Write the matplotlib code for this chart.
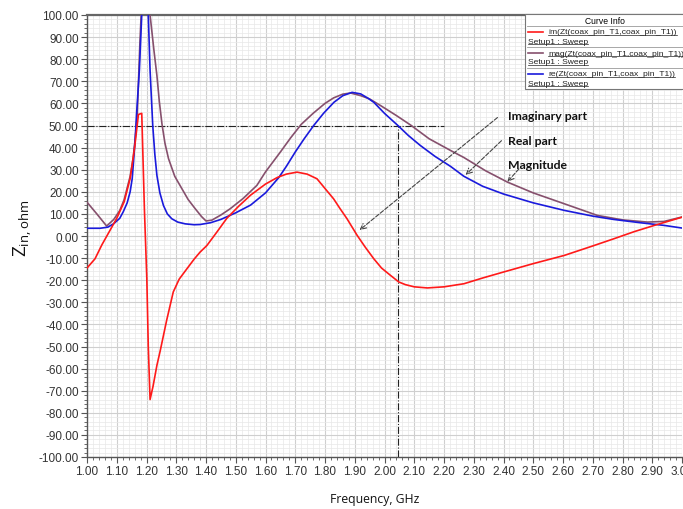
import matplotlib
matplotlib.use("Agg")
import matplotlib.pyplot as plt
from matplotlib.patches import Rectangle
from matplotlib.lines import Line2D
from matplotlib.ticker import MultipleLocator, FormatStrFormatter

# im(Zt) - imaginary part
im_freq = [1.00, 1.027, 1.05, 1.075, 1.10, 1.125, 1.145, 1.16, 1.173, 1.184,
           1.193, 1.201, 1.206, 1.212, 1.222, 1.235, 1.246, 1.257, 1.268, 1.29,
           1.31, 1.336, 1.36, 1.38, 1.403, 1.435, 1.47, 1.51, 1.55, 1.60,
           1.64, 1.67, 1.706, 1.74, 1.773, 1.80, 1.829, 1.85, 1.874, 1.908,
           1.935, 1.964, 1.99, 2.02, 2.048, 2.07, 2.10, 2.144, 2.20, 2.267,
           2.33, 2.40, 2.50, 2.604, 2.70, 2.772, 2.84, 2.907, 3.00]
im_vals = [-14.5, -10.3, -4.0, 2.0, 8.0, 15.5, 26.0, 40.0, 55.0, 55.5,
           12.0, -19.0, -50.0, -74.0, -68.0, -58.5, -52.0, -45.0, -38.0, -25.3,
           -19.5, -14.8, -10.5, -7.3, -4.3, 1.5, 8.0, 13.5, 18.5, 23.5,
           26.5, 28.0, 28.9, 28.0, 25.9, 21.5, 16.8, 12.5, 7.8, 0.3,
           -5.0, -10.3, -14.5, -17.8, -20.8, -22.0, -23.0, -23.5, -23.0, -21.6,
           -19.0, -16.3, -12.5, -8.8, -4.5, -1.2, 2.0, 4.8, 8.5]

# mag(Zt) - magnitude
mag_freq = [1.00, 1.033, 1.066, 1.09, 1.11, 1.125, 1.145, 1.155, 1.162, 1.169,
            1.178, 1.182, 1.197, 1.212, 1.225, 1.235, 1.243, 1.252, 1.262, 1.274,
            1.295, 1.319, 1.34, 1.364, 1.385, 1.40, 1.42, 1.45, 1.481, 1.525,
            1.571, 1.60, 1.65, 1.685, 1.72, 1.76, 1.80, 1.829, 1.86, 1.886,
            1.92, 1.95, 1.987, 2.04, 2.09, 2.15, 2.222, 2.267, 2.34, 2.413,
            2.50, 2.604, 2.716, 2.80, 2.884, 2.94, 3.00]
mag_vals = [15.3, 10.0, 4.5, 7.5, 11.5, 16.5, 27.0, 35.0, 44.0, 55.0,
            88.0, 100.0, 140.0, 100.0, 84.0, 72.6, 61.0, 50.7, 42.0, 35.0,
            27.0, 21.4, 16.5, 12.3, 8.8, 6.8, 7.2, 9.5, 12.3, 17.0,
            22.9, 29.0, 38.0, 44.5, 50.5, 55.5, 60.0, 62.5, 64.2, 64.7,
            63.5, 62.0, 59.0, 54.5, 50.0, 44.0, 38.7, 35.5, 29.5, 24.4,
            19.5, 14.6, 9.3, 7.3, 6.3, 6.6, 8.6]

# re(Zt) - real part
re_freq = [1.00, 1.044, 1.07, 1.089, 1.11, 1.122, 1.135, 1.145, 1.152, 1.156,
           1.162, 1.167, 1.176, 1.184, 1.195, 1.206, 1.212, 1.221, 1.228, 1.235,
           1.245, 1.257, 1.27, 1.285, 1.305, 1.33, 1.36, 1.38, 1.415, 1.45,
           1.50, 1.55, 1.60, 1.645, 1.67, 1.70, 1.73, 1.762, 1.795, 1.83,
           1.86, 1.891, 1.92, 1.945, 1.964, 2.00, 2.045, 2.08, 2.12, 2.17,
           2.222, 2.267, 2.33, 2.40, 2.50, 2.604, 2.70, 2.77, 2.86, 2.94,
           3.00]
re_vals = [3.5, 3.5, 4.0, 5.5, 8.0, 11.0, 15.0, 20.0, 26.0, 33.0,
           44.0, 56.0, 75.0, 100.0, 130.0, 100.0, 75.0, 50.0, 37.0, 27.4,
           19.5, 13.8, 10.0, 7.8, 6.3, 5.5, 5.1, 5.2, 6.0, 7.5,
           10.5, 14.0, 19.5, 26.5, 31.5, 38.0, 44.0, 50.0, 55.5, 60.5,
           63.5, 65.0, 64.3, 62.3, 60.5, 55.5, 50.0, 45.5, 41.0, 36.0,
           31.5, 27.0, 22.5, 19.0, 15.0, 11.6, 9.0, 7.5, 6.0, 4.8,
           3.6]

legend_names = ["im(Zt(coax_pin_T1,coax_pin_T1))",
                "mag(Zt(coax_pin_T1,coax_pin_T1))",
                "re(Zt(coax_pin_T1,coax_pin_T1))"]
c_im, c_mag, c_re = "#ff1a1a", "#86506d", "#1a1adc"

W, H = 683, 510
fig = plt.figure(figsize=(W / 100, H / 100), dpi=100)


def fx(px):
    return px / W


def fy(py):
    return 1 - py / H


ax = fig.add_axes([fx(87), fy(458), fx(682) - fx(87), fy(16) - fy(458)])
ax.set_xlim(1.0, 3.0)
ax.set_ylim(-100, 100)

ax.plot(im_freq, im_vals, color=c_im, lw=1.2, zorder=4)
ax.plot(mag_freq, mag_vals, color=c_mag, lw=1.2, zorder=3)
ax.plot(re_freq, re_vals, color=c_re, lw=1.2, zorder=3)

# reference lines at 50 ohm / 2.045 GHz
ax.plot([1.0, 2.20], [50, 50], color="#222222", ls="-.", lw=0.8, zorder=2)
ax.plot([2.045, 2.045], [-100, 50], color="#222222", ls="-.", lw=0.8, zorder=2)

ax.xaxis.set_major_locator(MultipleLocator(0.1))
ax.xaxis.set_minor_locator(MultipleLocator(0.02))
ax.yaxis.set_major_locator(MultipleLocator(10))
ax.yaxis.set_minor_locator(MultipleLocator(2))
ax.xaxis.set_major_formatter(FormatStrFormatter("%.2f"))
ax.yaxis.set_major_formatter(FormatStrFormatter("%.2f"))
ax.grid(which="major", color="#cfcfcf", lw=0.8, zorder=0)
ax.grid(which="minor", color="#e8e8e8", lw=0.5, zorder=0)
ax.set_axisbelow(True)
ax.tick_params(which="major", direction="out", length=4, width=0.8, color="#555555",
               labelsize=8.5, labelcolor="#333333", pad=2)
ax.tick_params(which="minor", direction="out", length=2.2, width=0.6, color="#555555")
for lab in ax.get_xticklabels() + ax.get_yticklabels():
    lab.set_family("Liberation Sans")
for side in ["left", "bottom"]:
    ax.spines[side].set_color("#555555")
    ax.spines[side].set_linewidth(1.0)
ax.spines["top"].set_color("#666666")
ax.spines["top"].set_linewidth(1.6)
ax.spines["right"].set_visible(False)

# annotations
arrow_kw = dict(arrowstyle="->", ls="--", color="#444444", lw=0.8)
labels = [("Imaginary part", (1.909, 1.9), (2.387, 54.4), 54.4),
          ("Real part", (2.266, 26.8), (2.40, 44.0), 43.0),
          ("Magnitude", (2.407, 23.6), (2.458, 31.3), 32.2)]
for txt, tip, start, ty in labels:
    ax.annotate("", xy=tip, xytext=start, arrowprops=arrow_kw, zorder=5)
    ax.text(2.414, ty, txt, fontsize=8.8, fontweight="bold", family="Lato",
            color="#111111", va="center", ha="left", zorder=5)

# axis titles
fig.text(fx(23), fy(228), r"Z$_{\mathregular{in,ohm}}$", rotation=90, fontsize=13.5,
         family="Open Sans", ha="center", va="center", color="#111111")
fig.text(fx(375), fy(500), "Frequency, GHz", fontsize=8.8, family="Open Sans",
         ha="center", va="center", color="#111111")

# Curve Info box
fig.patches.append(Rectangle((fx(525), fy(90)), fx(700) - fx(525), fy(15) - fy(90),
                             transform=fig.transFigure, facecolor="white",
                             edgecolor="#777777", lw=0.8, zorder=10))
fig.text(fx(605), fy(21), "Curve Info", fontsize=6.2, family="Liberation Sans",
         ha="center", va="center", zorder=11)
for sep in [27, 48, 69]:
    fig.lines.append(Line2D([fx(527), fx(700)], [fy(sep), fy(sep)], transform=fig.transFigure,
                            color="#999999", lw=0.6, zorder=11))
entry_texts = []
for i, (name, col) in enumerate(zip(legend_names, [c_im, c_mag, c_re])):
    y0 = 33 + i * 21
    fig.lines.append(Line2D([fx(528), fx(543)], [fy(y0), fy(y0)], transform=fig.transFigure,
                            color=col, lw=1.2, zorder=11))
    t1 = fig.text(fx(548), fy(y0), name, fontsize=6.1, family="Liberation Sans",
                  ha="left", va="center", color="#222222", zorder=11)
    t2 = fig.text(fx(528), fy(y0 + 9), "Setup1 : Sweep", fontsize=6.1, family="Liberation Sans",
                  ha="left", va="center", color="#222222", zorder=11)
    entry_texts += [t1, t2]

# underline the legend texts
fig.canvas.draw()
renderer = fig.canvas.get_renderer()
for t in entry_texts:
    bb = t.get_window_extent(renderer)
    fig.lines.append(Line2D([bb.x0 / W, bb.x1 / W], [(bb.y0 + 0.5) / H, (bb.y0 + 0.5) / H],
                            transform=fig.transFigure, color="#222222", lw=0.5, zorder=11))

fig.savefig("out.png", dpi=100)
plt.close(fig)
